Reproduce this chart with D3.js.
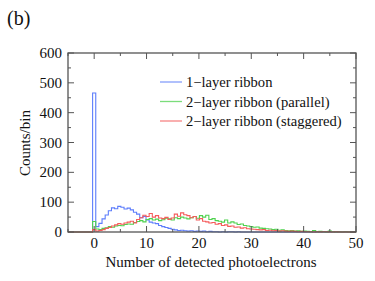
<!DOCTYPE html>
<html>
<head>
<meta charset="utf-8">
<script src="https://cdn.jsdelivr.net/npm/d3@7.9.0/dist/d3.min.js"></script>
<style>
  body { margin: 0; background: #fff; }
  svg text { font-family: "Liberation Serif", "DejaVu Serif", serif; fill: #111; }
</style>
</head>
<body>
<svg width="375" height="281"></svg>
<script>
// bin width in photoelectrons, first bin centred on 0
const binWidth = 0.6;

const oneLayer = [466, 18, 29, 44, 57, 71, 81, 78, 86, 83, 77, 80, 74, 66, 60, 48, 52, 40, 33, 30,
  28, 22, 18, 15, 12, 9, 7, 5, 6, 4, 3, 4, 2, 3, 2, 3, 1, 2, 1, 1,
  0, 1, 0, 1, 1, 0, 1, 0, 0, 0, 0, 0, 0, 0, 0, 0, 0, 0, 0, 0];

const parallel = [35, 10, 8, 12, 14, 18, 16, 20, 22, 21, 25, 27, 26, 32, 35, 38, 34, 42, 45, 40,
  43, 38, 41, 46, 44, 40, 48, 45, 50, 47, 44, 48, 52, 46, 55, 50, 56, 42, 45, 38,
  36, 33, 40, 30, 34, 30, 25, 27, 22, 20, 18, 16, 17, 13, 12, 11, 10, 8, 9, 6,
  7, 5, 4, 5, 3, 4, 2, 3, 2, 1, 5, 1, 2, 1, 0, 3, 1, 0, 1, 0, 1, 0, 0, 0];

const staggered = [8, 3, 5, 8, 12, 15, 20, 24, 28, 26, 30, 33, 36, 30, 42, 48, 56, 52, 62, 50,
  55, 47, 45, 49, 42, 47, 60, 53, 64, 58, 55, 48, 52, 40, 45, 36, 34, 30, 32, 26,
  28, 22, 24, 19, 20, 16, 17, 13, 14, 11, 10, 9, 8, 7, 8, 5, 6, 4, 5, 3,
  4, 3, 2, 3, 2, 1, 2, 1, 1, 1, 0, 1, 0, 1, 1, 0, 0, 1, 0, 0, 0, 0, 0, 0];

const seriesNames = ['1\u2212layer ribbon', '2\u2212layer ribbon (parallel)', '2\u2212layer ribbon (staggered)'];
const seriesColors = ['#5d7dfb', '#4fd24f', '#f55b5b'];
const xTicks = [0, 10, 20, 30, 40, 50];
const yTicks = [0, 100, 200, 300, 400, 500, 600];

const svg = d3.select('svg');
const plotLeft = 68, plotRight = 356, plotTop = 53, plotBottom = 232;

const x = d3.scaleLinear().domain([-5, 50]).range([plotLeft, plotRight]);
const y = d3.scaleLinear().domain([0, 600]).range([plotBottom, plotTop]);

// step outline for one histogram
function stepPoints(values) {
  const pts = [[-5, 0]];
  values.forEach((v, i) => {
    const x0 = i * binWidth - binWidth / 2;
    pts.push([x0, i === 0 ? 0 : values[i - 1]]);
    pts.push([x0, v]);
  });
  const xEnd = Math.min(values.length * binWidth - binWidth / 2, 50);
  pts.push([xEnd, values[values.length - 1]]);
  pts.push([xEnd, 0]);
  pts.push([50, 0]);
  return pts;
}

const line = d3.line().x(d => x(d[0])).y(d => y(d[1]));

[oneLayer, parallel, staggered].forEach((vals, i) => {
  svg.append('path')
    .attr('d', line(stepPoints(vals)))
    .attr('fill', 'none')
    .attr('stroke', seriesColors[i])
    .attr('stroke-width', 1.1);
});

// frame and ticks
const frame = '#555';
svg.append('rect')
  .attr('x', plotLeft).attr('y', plotTop)
  .attr('width', plotRight - plotLeft).attr('height', plotBottom - plotTop)
  .attr('fill', 'none').attr('stroke', frame).attr('stroke-width', 1.3);

const g = svg.append('g').attr('stroke', frame).attr('stroke-width', 1);
d3.range(-5, 51, 5).forEach(v => {
  const len = v % 10 === 0 ? 6 : 3;
  g.append('line').attr('x1', x(v)).attr('x2', x(v)).attr('y1', plotBottom).attr('y2', plotBottom - len);
  g.append('line').attr('x1', x(v)).attr('x2', x(v)).attr('y1', plotTop).attr('y2', plotTop + len);
});
d3.range(0, 601, 50).forEach(v => {
  const len = v % 100 === 0 ? 6 : 3;
  g.append('line').attr('x1', plotLeft).attr('x2', plotLeft + len).attr('y1', y(v)).attr('y2', y(v));
  g.append('line').attr('x1', plotRight).attr('x2', plotRight - len).attr('y1', y(v)).attr('y2', y(v));
});

svg.selectAll('.xt').data(xTicks).enter().append('text')
  .attr('x', d => x(d)).attr('y', 248)
  .attr('text-anchor', 'middle').attr('font-size', 15)
  .text(d => d);

svg.selectAll('.yt').data(yTicks).enter().append('text')
  .attr('x', 62).attr('y', d => y(d) + 5)
  .attr('text-anchor', 'end').attr('font-size', 15)
  .text(d => d);

svg.append('text')
  .attr('x', 211).attr('y', 267)
  .attr('text-anchor', 'middle').attr('font-size', 15)
  .text('Number of detected photoelectrons');

svg.append('text')
  .attr('transform', 'translate(30,143) rotate(-90)')
  .attr('text-anchor', 'middle').attr('font-size', 15)
  .text('Counts/bin');

svg.append('text')
  .attr('x', 7).attr('y', 25).attr('font-size', 20)
  .text('(b)');

// legend
seriesNames.forEach((name, i) => {
  const ly = 82 + i * 19.5;
  svg.append('line')
    .attr('x1', 160).attr('x2', 182).attr('y1', ly).attr('y2', ly)
    .attr('stroke', seriesColors[i]).attr('stroke-width', 1.3).attr('opacity', 0.75);
  svg.append('text')
    .attr('x', 186).attr('y', ly + 5).attr('font-size', 14.6)
    .text(name);
});
</script>
</body>
</html>
